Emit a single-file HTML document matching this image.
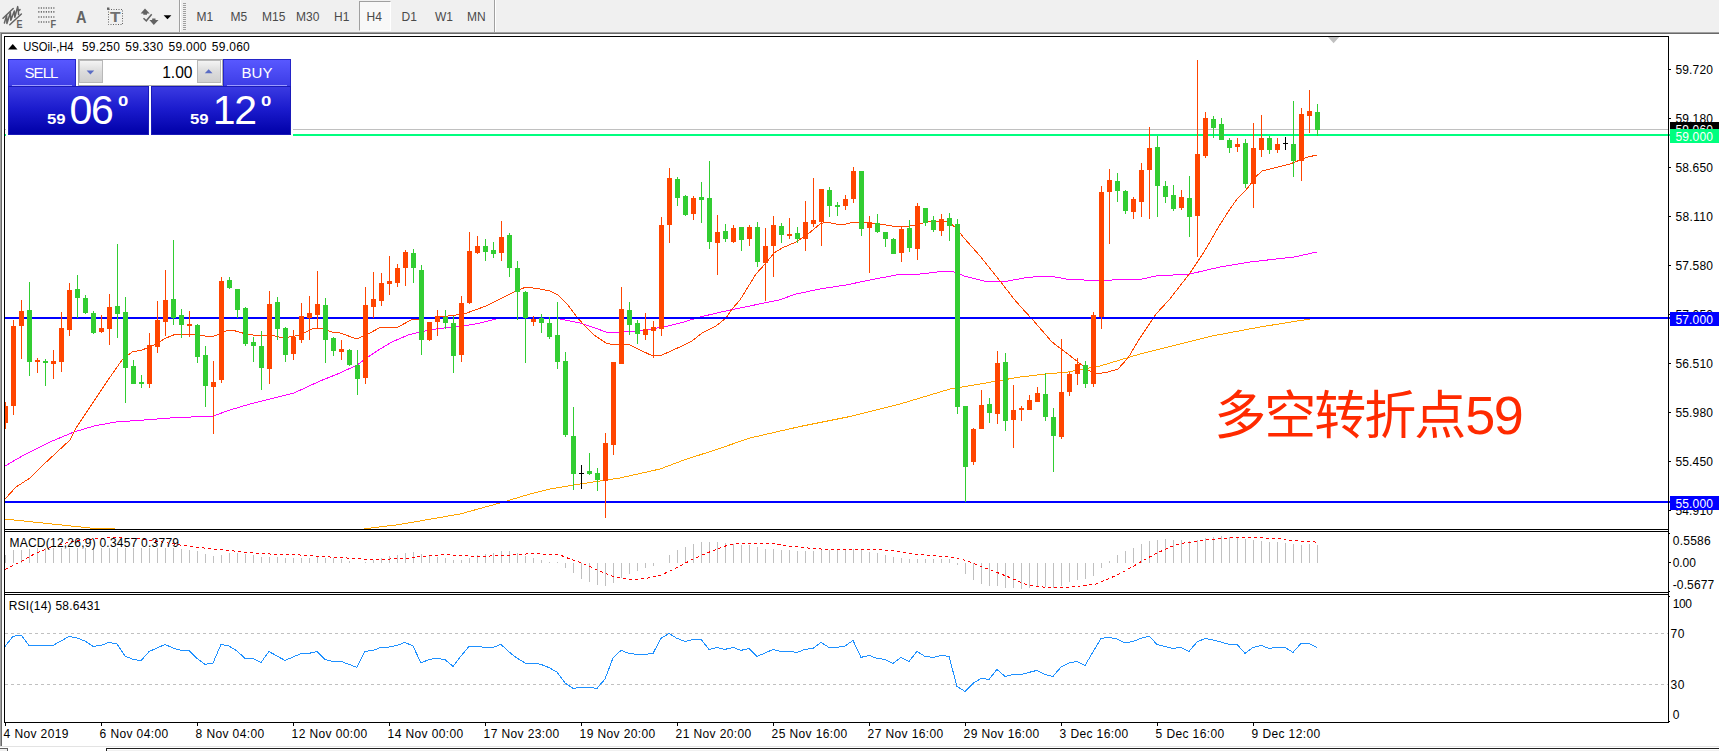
<!DOCTYPE html>
<html lang="zh"><head><meta charset="utf-8"><title>USOil-,H4</title>
<style>
html,body{margin:0;padding:0;background:#fff}
body{width:1719px;height:751px;overflow:hidden;position:relative;font-family:"Liberation Sans","Noto Sans CJK SC",sans-serif;font-size:12px;color:#000}
#toolbar{position:absolute;left:0;top:0;width:1719px;height:32px;background:#f0f0f0}
#toolbar .tf{position:absolute;top:9px;height:16px;line-height:16px;font-size:12px;color:#4a4a4a;white-space:nowrap}
#toolbar .sep{position:absolute;top:0;width:1px;height:32px;background:#a0a0a0}
#toolbar .sepw{position:absolute;top:0;width:1px;height:32px;background:#fff}
#h4box{position:absolute;left:359px;top:1px;width:30px;height:28px;background:#f8f8f8;border-left:1px solid #a0a0a0;border-top:1px solid #a0a0a0;border-right:1px solid #fff;border-bottom:1px solid #fff}
#edge-t1{position:absolute;left:0;top:32px;width:1719px;height:1px;background:#a0a0a0}
#edge-t2{position:absolute;left:0;top:33px;width:1719px;height:1px;background:#696969}
#edge-l1{position:absolute;left:0;top:32px;width:1px;height:714px;background:#a0a0a0}
#edge-l2{position:absolute;left:1px;top:33px;width:1px;height:713px;background:#696969}
#bottom{position:absolute;left:0;top:746px;width:1719px;height:5px;background:#fff}
#chart{position:absolute;left:0;top:0}
#trade{position:absolute;left:8px;top:59px;width:283px;height:76px}
#trade div{position:absolute;box-sizing:border-box}
.btn{color:#fff;font-size:15px;text-align:center;line-height:25px;height:27px;top:0;width:68px;background:linear-gradient(#5858ff,#3c3ce6);border:1px solid #2424c8;border-bottom:none}
.price{top:27px;height:49px;background:linear-gradient(#3a3ae2 0%,#1c1cce 45%,#0000a8 100%);border:1px solid #1a1ab8;color:#fff}
.price span{position:absolute;white-space:nowrap;line-height:1}
.big{font-size:41px;letter-spacing:-1.2px}
.sm{font-size:14.3px;font-weight:bold;display:inline-block;transform:scaleX(1.17);transform-origin:0 0}
.sm.sup{transform:scaleX(1.3)}
#vol{left:70px;top:0;width:145px;height:27px;background:#fff;border:1px solid #a9a9a9}
.spin{top:0;width:24px;height:23px;background:linear-gradient(#f4f4f4,#dcdcdc 50%,#cfcfcf);border:1px solid #b8b8b8}
</style></head>
<body>
<div id="toolbar">
<div class="sep" style="left:179px"></div><div class="sepw" style="left:180px"></div>
<div id="h4box"></div>

<div class="tf" style="left:196.5px">M1</div>
<div class="tf" style="left:230.5px">M5</div>
<div class="tf" style="left:262px">M15</div>
<div class="tf" style="left:296px">M30</div>
<div class="tf" style="left:334px">H1</div>
<div class="tf" style="left:366.5px">H4</div>
<div class="tf" style="left:401.5px">D1</div>
<div class="tf" style="left:435px">W1</div>
<div class="tf" style="left:467px">MN</div>
<div class="sep" style="left:494px"></div><div class="sepw" style="left:495px"></div>
</div>
<div id="edge-t1"></div><div id="edge-t2"></div><div id="edge-l1"></div><div id="edge-l2"></div>
<div id="bottom"></div>
<svg id="chart" width="1719" height="751" viewBox="0 0 1719 751" font-family="Liberation Sans, sans-serif" font-size="12">
<defs><clipPath id="cm"><rect x="5" y="37" width="1663" height="492"/></clipPath><clipPath id="cd"><rect x="5" y="532" width="1663" height="60"/></clipPath><clipPath id="cr"><rect x="5" y="595" width="1663" height="127"/></clipPath><clipPath id="cb"><rect x="1669" y="122" width="50" height="7"/></clipPath></defs>
<g id="icons" stroke="#636363" fill="none" stroke-width="1.4" stroke-linecap="round">
<path d="M3 18.3 L13.2 8.5 M9.8 24.8 L21.4 14" stroke-width="1.5"/>
<path d="M4.4 23 L6.6 15.5 L6.9 23.5 L10.4 12.5 L10.8 20.3 L14.3 11 L14.8 17.2 L17.7 6.6 L18.3 11.2 L20 9.6 M18.3 11.2 L18.6 14.5" stroke-width="1.5" stroke-linejoin="round"/>
</g>
<g stroke="#636363" stroke-width="1.7" stroke-dasharray="1.1 1.4" fill="none"><path d="M38.3 8H55.3M38.3 11.9H55.3M38.3 17H55.3M38.3 22H50"/></g>
<text x="16.6" y="27.7" font-size="10" font-weight="bold" fill="#636363" textLength="6" lengthAdjust="spacingAndGlyphs">E</text>
<text x="50.6" y="27.7" font-size="10" font-weight="bold" fill="#636363" textLength="5.6" lengthAdjust="spacingAndGlyphs">F</text>
<text x="76" y="22.7" font-size="17" font-weight="bold" fill="#636363" textLength="10.5" lengthAdjust="spacingAndGlyphs">A</text>
<rect x="108.5" y="9.5" width="14" height="15" fill="none" stroke="#636363" stroke-width="1" stroke-dasharray="1 1.5"/>
<rect x="107" y="7.5" width="2.4" height="2.4" fill="#636363"/>
<text x="110" y="22.3" font-size="15.3" font-weight="bold" fill="#707070" textLength="10.6" lengthAdjust="spacingAndGlyphs">T</text>
<g fill="#636363"><path d="M145 8.4L149.7 13.4H147V14.8H143.3V13.4H140.6Z"/><path d="M153.8 25L149.4 20H152.2V18.5H155.5V20H158.5Z"/></g>
<path d="M143.5 18.2L146.3 20.8L151.7 14.2" fill="none" stroke="#636363" stroke-width="1.5"/>
<path d="M163.6 15.2H171.4L167.5 19.2Z" fill="#000"/>
<path d="M183 3.5H186M183 5.5H186M183 7.5H186M183 9.5H186M183 11.5H186M183 13.5H186M183 15.5H186M183 17.5H186M183 19.5H186M183 21.5H186M183 23.5H186M183 25.5H186M183 27.5H186M183 29.5H186" stroke="#a0a0a0" stroke-width="1" shape-rendering="crispEdges"/>
<g shape-rendering="crispEdges" fill="none" stroke="#000" stroke-width="1">
<path d="M4.5 36V723M1668.5 36V723"/>
<path d="M4 36.5H1669M4 529.5H1669M4 531.5H1669M4 592.5H1669M4 594.5H1669M4 722.5H1669"/>
</g>
<rect x="5" y="530" width="1663" height="1" fill="#fff"/><rect x="5" y="593" width="1663" height="1" fill="#fff"/>
<g clip-path="url(#cm)" shape-rendering="crispEdges">
<polyline points="5,519 90,528 114,528.7 118,530 250,534 360,529.6 367,528.5 399,524.6 460,514 500,503 530,494 550,489 580,484 620,478 660,469 684,460 715,450 750,438 800,426.5 850,416.5 900,404 950,389 980,384 1020,377 1046,374 1068,372 1100,366 1140,354 1180,344 1212,336 1260,327 1310,319 1317,318" fill="none" stroke="#ffa500" stroke-width="1"/>
<polyline points="5,466 24,455 50,442 74,432 94,426 116,422 144,420 170,418 213,416 230,410 250,404 270,399 294,393 320,381 340,373 357,365 368,357 380,349 392,342 408,335 420,332 436,329 452,327 464,326 480,323 500,318 530,317 560,319 580,323 592,327 606,332 614,333 624,331 640,331 652,329 668,326 684,322 700,317 730,310 779,300 796,294 820,289 846,285 870,280 896,275 920,274 946,271 952,271 964,276 980,280 988,282 1008,281 1024,278 1042,276 1050,276 1066,279 1084,280 1112,280 1142,279 1156,276 1190,274 1220,267 1250,262 1294,257 1317,252" fill="none" stroke="#ff00ff" stroke-width="1"/>
<polyline points="5,499 16,487 30,478 42,466 70,440 76,428 88,410 108,380 122,360 132,352 142,350 152,346 166,338 176,334 190,334 212,337 226,331 232,330 246,334 260,336 270,335 284,338 300,335 312,329 320,328 332,332 340,333 357,339 368,334 381,327 398,327 413,319 420,319 440,317 464,314 486,306 500,299 514,292 526,287 540,289 550,291 558,295 568,305 576,316 584,325 594,335 606,343 614,345 620,344 630,345 642,351 653,356 662,355 682,346 692,341 702,333 716,326 726,318 732,309 740,300 756,274 766,263 774,253 782,248 796,242 808,234 820,224 826,222 836,224 846,224 854,222 880,224 892,226 910,226 920,224 930,221 948,221 957,229 964,238 980,256 1000,281 1014,299 1020,306 1032,319 1052,342 1064,351 1078,362 1088,370 1096,374 1108,372 1118,369 1128,358 1140,338 1156,314 1169,300 1190,273 1204,252 1220,224.5 1230,209 1237,199 1246,190 1251,183.5 1256,176.5 1262,171 1270,169 1280,166.5 1290,164 1300,160 1308,157 1317,155" fill="none" stroke="#ff4500" stroke-width="1"/>
<rect x="5" y="317" width="1663" height="2" fill="#0000ff"/>
<rect x="5" y="501" width="1663" height="2" fill="#0000ff"/>
<rect x="5" y="129" width="1663" height="1" fill="#c0c0c0"/>
<rect x="5" y="134" width="1663" height="2" fill="#00ff7f"/>
<rect x="6" y="56" width="287" height="81" fill="#fff"/>
<rect x="5" y="402" width="1" height="27" fill="#ff4500"/>
<rect x="3" y="406" width="5" height="17" fill="#ff4500"/>
<rect x="13" y="320" width="1" height="95" fill="#ff4500"/>
<rect x="11" y="326" width="5" height="80" fill="#ff4500"/>
<rect x="21" y="300" width="1" height="59" fill="#ff4500"/>
<rect x="19" y="311" width="5" height="15" fill="#ff4500"/>
<rect x="29" y="282" width="1" height="94" fill="#32cd32"/>
<rect x="27" y="310" width="5" height="52" fill="#32cd32"/>
<rect x="37" y="358" width="1" height="15" fill="#ff4500"/>
<rect x="35" y="360" width="5" height="2" fill="#ff4500"/>
<rect x="45" y="359" width="1" height="27" fill="#32cd32"/>
<rect x="43" y="361" width="5" height="2" fill="#32cd32"/>
<rect x="53" y="350" width="1" height="29" fill="#ff4500"/>
<rect x="51" y="361" width="5" height="3" fill="#ff4500"/>
<rect x="61" y="312" width="1" height="60" fill="#ff4500"/>
<rect x="59" y="328" width="5" height="34" fill="#ff4500"/>
<rect x="69" y="283" width="1" height="53" fill="#ff4500"/>
<rect x="67" y="290" width="5" height="40" fill="#ff4500"/>
<rect x="77" y="275" width="1" height="43" fill="#32cd32"/>
<rect x="75" y="289" width="5" height="9" fill="#32cd32"/>
<rect x="85" y="295" width="1" height="19" fill="#32cd32"/>
<rect x="83" y="298" width="5" height="15" fill="#32cd32"/>
<rect x="93" y="311" width="1" height="23" fill="#32cd32"/>
<rect x="91" y="313" width="5" height="20" fill="#32cd32"/>
<rect x="101" y="315" width="1" height="18" fill="#ff4500"/>
<rect x="99" y="328" width="5" height="4" fill="#ff4500"/>
<rect x="109" y="294" width="1" height="51" fill="#ff4500"/>
<rect x="107" y="307" width="5" height="22" fill="#ff4500"/>
<rect x="117" y="244" width="1" height="94" fill="#32cd32"/>
<rect x="115" y="306" width="5" height="8" fill="#32cd32"/>
<rect x="125" y="297" width="1" height="106" fill="#32cd32"/>
<rect x="123" y="312" width="5" height="56" fill="#32cd32"/>
<rect x="133" y="360" width="1" height="24" fill="#32cd32"/>
<rect x="131" y="366" width="5" height="18" fill="#32cd32"/>
<rect x="141" y="375" width="1" height="13" fill="#32cd32"/>
<rect x="139" y="382" width="5" height="2" fill="#32cd32"/>
<rect x="149" y="333" width="1" height="55" fill="#ff4500"/>
<rect x="147" y="345" width="5" height="39" fill="#ff4500"/>
<rect x="157" y="301" width="1" height="52" fill="#ff4500"/>
<rect x="155" y="320" width="5" height="27" fill="#ff4500"/>
<rect x="165" y="270" width="1" height="66" fill="#ff4500"/>
<rect x="163" y="300" width="5" height="22" fill="#ff4500"/>
<rect x="173" y="240" width="1" height="85" fill="#32cd32"/>
<rect x="171" y="299" width="5" height="19" fill="#32cd32"/>
<rect x="181" y="309" width="1" height="29" fill="#32cd32"/>
<rect x="179" y="315" width="5" height="10" fill="#32cd32"/>
<rect x="189" y="311" width="1" height="26" fill="#ff4500"/>
<rect x="187" y="324" width="5" height="2" fill="#ff4500"/>
<rect x="197" y="324" width="1" height="39" fill="#32cd32"/>
<rect x="195" y="325" width="5" height="32" fill="#32cd32"/>
<rect x="205" y="346" width="1" height="61" fill="#32cd32"/>
<rect x="203" y="355" width="5" height="31" fill="#32cd32"/>
<rect x="213" y="361" width="1" height="73" fill="#ff4500"/>
<rect x="211" y="382" width="5" height="5" fill="#ff4500"/>
<rect x="221" y="277" width="1" height="106" fill="#ff4500"/>
<rect x="219" y="281" width="5" height="99" fill="#ff4500"/>
<rect x="229" y="277" width="1" height="12" fill="#32cd32"/>
<rect x="227" y="280" width="5" height="8" fill="#32cd32"/>
<rect x="237" y="289" width="1" height="29" fill="#32cd32"/>
<rect x="235" y="289" width="5" height="21" fill="#32cd32"/>
<rect x="245" y="307" width="1" height="39" fill="#32cd32"/>
<rect x="243" y="308" width="5" height="36" fill="#32cd32"/>
<rect x="253" y="337" width="1" height="25" fill="#32cd32"/>
<rect x="251" y="342" width="5" height="4" fill="#32cd32"/>
<rect x="261" y="331" width="1" height="59" fill="#32cd32"/>
<rect x="259" y="346" width="5" height="22" fill="#32cd32"/>
<rect x="269" y="291" width="1" height="93" fill="#ff4500"/>
<rect x="267" y="304" width="5" height="65" fill="#ff4500"/>
<rect x="277" y="297" width="1" height="43" fill="#32cd32"/>
<rect x="275" y="302" width="5" height="27" fill="#32cd32"/>
<rect x="285" y="327" width="1" height="35" fill="#32cd32"/>
<rect x="283" y="328" width="5" height="27" fill="#32cd32"/>
<rect x="293" y="330" width="1" height="30" fill="#ff4500"/>
<rect x="291" y="337" width="5" height="17" fill="#ff4500"/>
<rect x="301" y="303" width="1" height="40" fill="#ff4500"/>
<rect x="299" y="316" width="5" height="24" fill="#ff4500"/>
<rect x="309" y="296" width="1" height="44" fill="#ff4500"/>
<rect x="307" y="313" width="5" height="5" fill="#ff4500"/>
<rect x="317" y="271" width="1" height="57" fill="#ff4500"/>
<rect x="315" y="304" width="5" height="11" fill="#ff4500"/>
<rect x="325" y="298" width="1" height="65" fill="#32cd32"/>
<rect x="323" y="305" width="5" height="35" fill="#32cd32"/>
<rect x="333" y="337" width="1" height="19" fill="#32cd32"/>
<rect x="331" y="338" width="5" height="13" fill="#32cd32"/>
<rect x="341" y="340" width="1" height="20" fill="#ff4500"/>
<rect x="339" y="349" width="5" height="3" fill="#ff4500"/>
<rect x="349" y="349" width="1" height="17" fill="#32cd32"/>
<rect x="347" y="350" width="5" height="15" fill="#32cd32"/>
<rect x="357" y="350" width="1" height="45" fill="#32cd32"/>
<rect x="355" y="365" width="5" height="14" fill="#32cd32"/>
<rect x="365" y="287" width="1" height="97" fill="#ff4500"/>
<rect x="363" y="305" width="5" height="73" fill="#ff4500"/>
<rect x="373" y="272" width="1" height="46" fill="#ff4500"/>
<rect x="371" y="299" width="5" height="8" fill="#ff4500"/>
<rect x="381" y="273" width="1" height="33" fill="#ff4500"/>
<rect x="379" y="283" width="5" height="18" fill="#ff4500"/>
<rect x="389" y="256" width="1" height="39" fill="#ff4500"/>
<rect x="387" y="281" width="5" height="3" fill="#ff4500"/>
<rect x="397" y="264" width="1" height="23" fill="#ff4500"/>
<rect x="395" y="268" width="5" height="15" fill="#ff4500"/>
<rect x="405" y="250" width="1" height="36" fill="#ff4500"/>
<rect x="403" y="252" width="5" height="16" fill="#ff4500"/>
<rect x="413" y="249" width="1" height="34" fill="#32cd32"/>
<rect x="411" y="253" width="5" height="15" fill="#32cd32"/>
<rect x="421" y="265" width="1" height="90" fill="#32cd32"/>
<rect x="419" y="270" width="5" height="70" fill="#32cd32"/>
<rect x="429" y="322" width="1" height="19" fill="#ff4500"/>
<rect x="427" y="322" width="5" height="18" fill="#ff4500"/>
<rect x="437" y="310" width="1" height="26" fill="#ff4500"/>
<rect x="435" y="316" width="5" height="6" fill="#ff4500"/>
<rect x="445" y="310" width="1" height="19" fill="#32cd32"/>
<rect x="443" y="317" width="5" height="6" fill="#32cd32"/>
<rect x="453" y="316" width="1" height="57" fill="#32cd32"/>
<rect x="451" y="323" width="5" height="33" fill="#32cd32"/>
<rect x="461" y="296" width="1" height="66" fill="#ff4500"/>
<rect x="459" y="303" width="5" height="52" fill="#ff4500"/>
<rect x="469" y="232" width="1" height="72" fill="#ff4500"/>
<rect x="467" y="251" width="5" height="52" fill="#ff4500"/>
<rect x="477" y="236" width="1" height="18" fill="#ff4500"/>
<rect x="475" y="246" width="5" height="7" fill="#ff4500"/>
<rect x="485" y="239" width="1" height="22" fill="#32cd32"/>
<rect x="483" y="246" width="5" height="6" fill="#32cd32"/>
<rect x="493" y="242" width="1" height="16" fill="#32cd32"/>
<rect x="491" y="250" width="5" height="4" fill="#32cd32"/>
<rect x="501" y="221" width="1" height="40" fill="#ff4500"/>
<rect x="499" y="237" width="5" height="16" fill="#ff4500"/>
<rect x="509" y="233" width="1" height="44" fill="#32cd32"/>
<rect x="507" y="235" width="5" height="33" fill="#32cd32"/>
<rect x="517" y="261" width="1" height="59" fill="#32cd32"/>
<rect x="515" y="268" width="5" height="24" fill="#32cd32"/>
<rect x="525" y="291" width="1" height="72" fill="#32cd32"/>
<rect x="523" y="292" width="5" height="26" fill="#32cd32"/>
<rect x="533" y="316" width="1" height="10" fill="#ff4500"/>
<rect x="531" y="319" width="5" height="3" fill="#ff4500"/>
<rect x="541" y="314" width="1" height="19" fill="#32cd32"/>
<rect x="539" y="318" width="5" height="5" fill="#32cd32"/>
<rect x="549" y="317" width="1" height="22" fill="#32cd32"/>
<rect x="547" y="323" width="5" height="14" fill="#32cd32"/>
<rect x="557" y="302" width="1" height="67" fill="#32cd32"/>
<rect x="555" y="335" width="5" height="27" fill="#32cd32"/>
<rect x="565" y="352" width="1" height="85" fill="#32cd32"/>
<rect x="563" y="361" width="5" height="74" fill="#32cd32"/>
<rect x="573" y="407" width="1" height="83" fill="#32cd32"/>
<rect x="571" y="436" width="5" height="38" fill="#32cd32"/>
<rect x="581" y="465" width="1" height="24" fill="#000"/>
<rect x="579" y="473" width="5" height="1" fill="#000"/>
<rect x="589" y="453" width="1" height="22" fill="#32cd32"/>
<rect x="587" y="471" width="5" height="3" fill="#32cd32"/>
<rect x="597" y="468" width="1" height="23" fill="#32cd32"/>
<rect x="595" y="473" width="5" height="7" fill="#32cd32"/>
<rect x="605" y="433" width="1" height="85" fill="#ff4500"/>
<rect x="603" y="443" width="5" height="38" fill="#ff4500"/>
<rect x="613" y="362" width="1" height="93" fill="#ff4500"/>
<rect x="611" y="362" width="5" height="83" fill="#ff4500"/>
<rect x="621" y="287" width="1" height="77" fill="#ff4500"/>
<rect x="619" y="309" width="5" height="55" fill="#ff4500"/>
<rect x="629" y="302" width="1" height="33" fill="#32cd32"/>
<rect x="627" y="310" width="5" height="15" fill="#32cd32"/>
<rect x="637" y="320" width="1" height="24" fill="#32cd32"/>
<rect x="635" y="323" width="5" height="11" fill="#32cd32"/>
<rect x="645" y="313" width="1" height="27" fill="#ff4500"/>
<rect x="643" y="329" width="5" height="6" fill="#ff4500"/>
<rect x="653" y="321" width="1" height="37" fill="#ff4500"/>
<rect x="651" y="327" width="5" height="4" fill="#ff4500"/>
<rect x="661" y="217" width="1" height="119" fill="#ff4500"/>
<rect x="659" y="225" width="5" height="104" fill="#ff4500"/>
<rect x="669" y="168" width="1" height="75" fill="#ff4500"/>
<rect x="667" y="178" width="5" height="47" fill="#ff4500"/>
<rect x="677" y="177" width="1" height="29" fill="#32cd32"/>
<rect x="675" y="179" width="5" height="19" fill="#32cd32"/>
<rect x="685" y="195" width="1" height="21" fill="#32cd32"/>
<rect x="683" y="196" width="5" height="19" fill="#32cd32"/>
<rect x="693" y="196" width="1" height="24" fill="#ff4500"/>
<rect x="691" y="198" width="5" height="16" fill="#ff4500"/>
<rect x="701" y="182" width="1" height="41" fill="#32cd32"/>
<rect x="699" y="197" width="5" height="3" fill="#32cd32"/>
<rect x="709" y="161" width="1" height="88" fill="#32cd32"/>
<rect x="707" y="198" width="5" height="44" fill="#32cd32"/>
<rect x="717" y="215" width="1" height="60" fill="#ff4500"/>
<rect x="715" y="232" width="5" height="11" fill="#ff4500"/>
<rect x="725" y="224" width="1" height="18" fill="#32cd32"/>
<rect x="723" y="231" width="5" height="8" fill="#32cd32"/>
<rect x="733" y="225" width="1" height="18" fill="#ff4500"/>
<rect x="731" y="228" width="5" height="14" fill="#ff4500"/>
<rect x="741" y="227" width="1" height="24" fill="#32cd32"/>
<rect x="739" y="227" width="5" height="13" fill="#32cd32"/>
<rect x="749" y="225" width="1" height="21" fill="#ff4500"/>
<rect x="747" y="227" width="5" height="12" fill="#ff4500"/>
<rect x="757" y="222" width="1" height="45" fill="#32cd32"/>
<rect x="755" y="227" width="5" height="35" fill="#32cd32"/>
<rect x="765" y="228" width="1" height="73" fill="#ff4500"/>
<rect x="763" y="246" width="5" height="17" fill="#ff4500"/>
<rect x="773" y="216" width="1" height="61" fill="#ff4500"/>
<rect x="771" y="225" width="5" height="21" fill="#ff4500"/>
<rect x="781" y="223" width="1" height="20" fill="#32cd32"/>
<rect x="779" y="226" width="5" height="9" fill="#32cd32"/>
<rect x="789" y="218" width="1" height="21" fill="#ff4500"/>
<rect x="787" y="234" width="5" height="2" fill="#ff4500"/>
<rect x="797" y="227" width="1" height="16" fill="#32cd32"/>
<rect x="795" y="233" width="5" height="6" fill="#32cd32"/>
<rect x="805" y="201" width="1" height="50" fill="#ff4500"/>
<rect x="803" y="222" width="5" height="17" fill="#ff4500"/>
<rect x="813" y="178" width="1" height="49" fill="#ff4500"/>
<rect x="811" y="220" width="5" height="4" fill="#ff4500"/>
<rect x="821" y="189" width="1" height="57" fill="#ff4500"/>
<rect x="819" y="189" width="5" height="33" fill="#ff4500"/>
<rect x="829" y="187" width="1" height="30" fill="#32cd32"/>
<rect x="827" y="190" width="5" height="16" fill="#32cd32"/>
<rect x="837" y="202" width="1" height="14" fill="#32cd32"/>
<rect x="835" y="205" width="5" height="2" fill="#32cd32"/>
<rect x="845" y="195" width="1" height="15" fill="#ff4500"/>
<rect x="843" y="199" width="5" height="7" fill="#ff4500"/>
<rect x="853" y="167" width="1" height="36" fill="#ff4500"/>
<rect x="851" y="171" width="5" height="28" fill="#ff4500"/>
<rect x="861" y="171" width="1" height="65" fill="#32cd32"/>
<rect x="859" y="171" width="5" height="58" fill="#32cd32"/>
<rect x="869" y="216" width="1" height="57" fill="#ff4500"/>
<rect x="867" y="222" width="5" height="6" fill="#ff4500"/>
<rect x="877" y="214" width="1" height="19" fill="#32cd32"/>
<rect x="875" y="223" width="5" height="9" fill="#32cd32"/>
<rect x="885" y="232" width="1" height="15" fill="#32cd32"/>
<rect x="883" y="232" width="5" height="7" fill="#32cd32"/>
<rect x="893" y="238" width="1" height="16" fill="#32cd32"/>
<rect x="891" y="239" width="5" height="15" fill="#32cd32"/>
<rect x="901" y="227" width="1" height="35" fill="#ff4500"/>
<rect x="899" y="229" width="5" height="24" fill="#ff4500"/>
<rect x="909" y="220" width="1" height="32" fill="#32cd32"/>
<rect x="907" y="228" width="5" height="20" fill="#32cd32"/>
<rect x="917" y="203" width="1" height="57" fill="#ff4500"/>
<rect x="915" y="206" width="5" height="43" fill="#ff4500"/>
<rect x="925" y="208" width="1" height="18" fill="#32cd32"/>
<rect x="923" y="208" width="5" height="15" fill="#32cd32"/>
<rect x="933" y="216" width="1" height="16" fill="#32cd32"/>
<rect x="931" y="220" width="5" height="10" fill="#32cd32"/>
<rect x="941" y="214" width="1" height="22" fill="#ff4500"/>
<rect x="939" y="219" width="5" height="12" fill="#ff4500"/>
<rect x="949" y="213" width="1" height="28" fill="#32cd32"/>
<rect x="947" y="218" width="5" height="8" fill="#32cd32"/>
<rect x="957" y="219" width="1" height="195" fill="#32cd32"/>
<rect x="955" y="224" width="5" height="183" fill="#32cd32"/>
<rect x="965" y="406" width="1" height="96" fill="#32cd32"/>
<rect x="963" y="406" width="5" height="61" fill="#32cd32"/>
<rect x="973" y="428" width="1" height="37" fill="#ff4500"/>
<rect x="971" y="429" width="5" height="33" fill="#ff4500"/>
<rect x="981" y="390" width="1" height="39" fill="#ff4500"/>
<rect x="979" y="405" width="5" height="24" fill="#ff4500"/>
<rect x="989" y="398" width="1" height="25" fill="#32cd32"/>
<rect x="987" y="404" width="5" height="9" fill="#32cd32"/>
<rect x="997" y="351" width="1" height="73" fill="#ff4500"/>
<rect x="995" y="363" width="5" height="51" fill="#ff4500"/>
<rect x="1005" y="353" width="1" height="78" fill="#32cd32"/>
<rect x="1003" y="362" width="5" height="59" fill="#32cd32"/>
<rect x="1013" y="385" width="1" height="63" fill="#ff4500"/>
<rect x="1011" y="410" width="5" height="10" fill="#ff4500"/>
<rect x="1021" y="406" width="1" height="15" fill="#ff4500"/>
<rect x="1019" y="408" width="5" height="2" fill="#ff4500"/>
<rect x="1029" y="395" width="1" height="15" fill="#ff4500"/>
<rect x="1027" y="400" width="5" height="10" fill="#ff4500"/>
<rect x="1037" y="387" width="1" height="15" fill="#ff4500"/>
<rect x="1035" y="393" width="5" height="9" fill="#ff4500"/>
<rect x="1045" y="373" width="1" height="48" fill="#32cd32"/>
<rect x="1043" y="394" width="5" height="23" fill="#32cd32"/>
<rect x="1053" y="408" width="1" height="64" fill="#32cd32"/>
<rect x="1051" y="417" width="5" height="19" fill="#32cd32"/>
<rect x="1061" y="339" width="1" height="100" fill="#ff4500"/>
<rect x="1059" y="392" width="5" height="45" fill="#ff4500"/>
<rect x="1069" y="372" width="1" height="24" fill="#ff4500"/>
<rect x="1067" y="374" width="5" height="18" fill="#ff4500"/>
<rect x="1077" y="358" width="1" height="27" fill="#ff4500"/>
<rect x="1075" y="364" width="5" height="10" fill="#ff4500"/>
<rect x="1085" y="361" width="1" height="27" fill="#32cd32"/>
<rect x="1083" y="365" width="5" height="19" fill="#32cd32"/>
<rect x="1093" y="312" width="1" height="75" fill="#ff4500"/>
<rect x="1091" y="315" width="5" height="69" fill="#ff4500"/>
<rect x="1101" y="186" width="1" height="143" fill="#ff4500"/>
<rect x="1099" y="192" width="5" height="125" fill="#ff4500"/>
<rect x="1109" y="169" width="1" height="75" fill="#ff4500"/>
<rect x="1107" y="180" width="5" height="12" fill="#ff4500"/>
<rect x="1117" y="173" width="1" height="29" fill="#32cd32"/>
<rect x="1115" y="181" width="5" height="10" fill="#32cd32"/>
<rect x="1125" y="190" width="1" height="24" fill="#32cd32"/>
<rect x="1123" y="191" width="5" height="20" fill="#32cd32"/>
<rect x="1133" y="197" width="1" height="22" fill="#ff4500"/>
<rect x="1131" y="199" width="5" height="13" fill="#ff4500"/>
<rect x="1141" y="163" width="1" height="54" fill="#ff4500"/>
<rect x="1139" y="170" width="5" height="32" fill="#ff4500"/>
<rect x="1149" y="127" width="1" height="92" fill="#ff4500"/>
<rect x="1147" y="148" width="5" height="22" fill="#ff4500"/>
<rect x="1157" y="136" width="1" height="81" fill="#32cd32"/>
<rect x="1155" y="147" width="5" height="39" fill="#32cd32"/>
<rect x="1165" y="181" width="1" height="22" fill="#32cd32"/>
<rect x="1163" y="186" width="5" height="11" fill="#32cd32"/>
<rect x="1173" y="185" width="1" height="26" fill="#32cd32"/>
<rect x="1171" y="195" width="5" height="14" fill="#32cd32"/>
<rect x="1181" y="190" width="1" height="20" fill="#ff4500"/>
<rect x="1179" y="197" width="5" height="11" fill="#ff4500"/>
<rect x="1189" y="176" width="1" height="61" fill="#32cd32"/>
<rect x="1187" y="198" width="5" height="19" fill="#32cd32"/>
<rect x="1197" y="60" width="1" height="197" fill="#ff4500"/>
<rect x="1195" y="154" width="5" height="62" fill="#ff4500"/>
<rect x="1205" y="112" width="1" height="46" fill="#ff4500"/>
<rect x="1203" y="118" width="5" height="38" fill="#ff4500"/>
<rect x="1213" y="116" width="1" height="22" fill="#32cd32"/>
<rect x="1211" y="119" width="5" height="9" fill="#32cd32"/>
<rect x="1221" y="118" width="1" height="22" fill="#32cd32"/>
<rect x="1219" y="124" width="5" height="16" fill="#32cd32"/>
<rect x="1229" y="138" width="1" height="15" fill="#32cd32"/>
<rect x="1227" y="140" width="5" height="8" fill="#32cd32"/>
<rect x="1237" y="138" width="1" height="14" fill="#ff4500"/>
<rect x="1235" y="144" width="5" height="3" fill="#ff4500"/>
<rect x="1245" y="139" width="1" height="49" fill="#32cd32"/>
<rect x="1243" y="143" width="5" height="41" fill="#32cd32"/>
<rect x="1253" y="123" width="1" height="85" fill="#ff4500"/>
<rect x="1251" y="148" width="5" height="36" fill="#ff4500"/>
<rect x="1261" y="115" width="1" height="42" fill="#ff4500"/>
<rect x="1259" y="138" width="5" height="12" fill="#ff4500"/>
<rect x="1269" y="136" width="1" height="18" fill="#32cd32"/>
<rect x="1267" y="138" width="5" height="12" fill="#32cd32"/>
<rect x="1277" y="138" width="1" height="15" fill="#ff4500"/>
<rect x="1275" y="144" width="5" height="6" fill="#ff4500"/>
<rect x="1285" y="137" width="1" height="13" fill="#000"/>
<rect x="1283" y="143" width="5" height="1" fill="#000"/>
<rect x="1293" y="101" width="1" height="76" fill="#32cd32"/>
<rect x="1291" y="144" width="5" height="17" fill="#32cd32"/>
<rect x="1301" y="108" width="1" height="73" fill="#ff4500"/>
<rect x="1299" y="114" width="5" height="47" fill="#ff4500"/>
<rect x="1309" y="90" width="1" height="43" fill="#ff4500"/>
<rect x="1307" y="111" width="5" height="5" fill="#ff4500"/>
<rect x="1317" y="104" width="1" height="32" fill="#32cd32"/>
<rect x="1315" y="112" width="5" height="18" fill="#32cd32"/>
</g>
<path d="M1328 37H1339.2L1333.6 43.2Z" fill="#c0c0c0"/>
<path d="M8 49.5H17.5L12.75 44Z" fill="#000"/>
<text y="50.7"><tspan x="23.3" textLength="50.3" lengthAdjust="spacingAndGlyphs">USOil-,H4</tspan><tspan x="81.9" textLength="38" lengthAdjust="spacing">59.250</tspan><tspan x="125.2" textLength="38" lengthAdjust="spacing">59.330</tspan><tspan x="168.5" textLength="38" lengthAdjust="spacing">59.000</tspan><tspan x="211.8" textLength="38" lengthAdjust="spacing">59.060</tspan></text>
<text x="1214.3" y="434" font-size="52" letter-spacing="-2" fill="#ff2a00" font-family="Liberation Sans, Noto Sans CJK SC, sans-serif">多空转折点<tspan font-size="54" letter-spacing="-1.5" dx="1">59</tspan></text>
<g shape-rendering="crispEdges">
<rect x="1669" y="69" width="2" height="1" fill="#000"/>
<rect x="1669" y="118" width="2" height="1" fill="#000"/>
<rect x="1669" y="167" width="2" height="1" fill="#000"/>
<rect x="1669" y="216" width="2" height="1" fill="#000"/>
<rect x="1669" y="265" width="2" height="1" fill="#000"/>
<rect x="1669" y="314" width="2" height="1" fill="#000"/>
<rect x="1669" y="363" width="2" height="1" fill="#000"/>
<rect x="1669" y="412" width="2" height="1" fill="#000"/>
<rect x="1669" y="461" width="2" height="1" fill="#000"/>
<rect x="1669" y="510" width="2" height="1" fill="#000"/>
</g>
<text x="1675.4" y="73.6" textLength="37.6" lengthAdjust="spacing">59.720</text>
<text x="1675.4" y="122.6" textLength="37.6" lengthAdjust="spacing">59.180</text>
<text x="1675.4" y="171.6" textLength="37.6" lengthAdjust="spacing">58.650</text>
<text x="1675.4" y="220.6" textLength="37.6" lengthAdjust="spacing">58.110</text>
<text x="1675.4" y="269.6" textLength="37.6" lengthAdjust="spacing">57.580</text>
<text x="1675.4" y="318.6" textLength="37.6" lengthAdjust="spacing">57.050</text>
<text x="1675.4" y="367.6" textLength="37.6" lengthAdjust="spacing">56.510</text>
<text x="1675.4" y="416.6" textLength="37.6" lengthAdjust="spacing">55.980</text>
<text x="1675.4" y="465.6" textLength="37.6" lengthAdjust="spacing">55.450</text>
<text x="1675.4" y="514.6" textLength="37.6" lengthAdjust="spacing">54.910</text>
<rect x="1670" y="122" width="49" height="7" fill="#000"/>
<g clip-path="url(#cb)"><text x="1675.4" y="134" fill="#fff" textLength="37.6" lengthAdjust="spacing">59.060</text></g>
<rect x="1670" y="129" width="49" height="14" fill="#00ff7f"/>
<text x="1675.4" y="140.8" fill="#fff" textLength="37.6" lengthAdjust="spacing">59.000</text>
<rect x="1669" y="134" width="1" height="2" fill="#00ff7f"/>
<rect x="1670" y="312" width="49" height="14" fill="#0000ff"/>
<rect x="1669" y="317" width="1" height="2" fill="#0000ff"/>
<text x="1675.4" y="323.8" fill="#fff" textLength="37.6" lengthAdjust="spacing">57.000</text>
<rect x="1670" y="496" width="49" height="14" fill="#0000ff"/>
<rect x="1669" y="501" width="1" height="2" fill="#0000ff"/>
<text x="1675.4" y="507.8" fill="#fff" textLength="37.6" lengthAdjust="spacing">55.000</text>
<g clip-path="url(#cd)" shape-rendering="crispEdges">
<rect x="5" y="555" width="1" height="8" fill="#c0c0c0"/>
<rect x="13" y="550" width="1" height="13" fill="#c0c0c0"/>
<rect x="21" y="550" width="1" height="13" fill="#c0c0c0"/>
<rect x="29" y="549" width="1" height="14" fill="#c0c0c0"/>
<rect x="37" y="548" width="1" height="15" fill="#c0c0c0"/>
<rect x="45" y="548" width="1" height="15" fill="#c0c0c0"/>
<rect x="53" y="548" width="1" height="15" fill="#c0c0c0"/>
<rect x="61" y="548" width="1" height="15" fill="#c0c0c0"/>
<rect x="69" y="548" width="1" height="15" fill="#c0c0c0"/>
<rect x="77" y="548" width="1" height="15" fill="#c0c0c0"/>
<rect x="85" y="548" width="1" height="15" fill="#c0c0c0"/>
<rect x="93" y="548" width="1" height="15" fill="#c0c0c0"/>
<rect x="101" y="548" width="1" height="15" fill="#c0c0c0"/>
<rect x="109" y="548" width="1" height="15" fill="#c0c0c0"/>
<rect x="117" y="548" width="1" height="15" fill="#c0c0c0"/>
<rect x="125" y="548" width="1" height="15" fill="#c0c0c0"/>
<rect x="133" y="548" width="1" height="15" fill="#c0c0c0"/>
<rect x="141" y="548" width="1" height="15" fill="#c0c0c0"/>
<rect x="149" y="548" width="1" height="15" fill="#c0c0c0"/>
<rect x="157" y="548" width="1" height="15" fill="#c0c0c0"/>
<rect x="165" y="548" width="1" height="15" fill="#c0c0c0"/>
<rect x="173" y="548" width="1" height="15" fill="#c0c0c0"/>
<rect x="181" y="549" width="1" height="14" fill="#c0c0c0"/>
<rect x="189" y="550" width="1" height="13" fill="#c0c0c0"/>
<rect x="197" y="551" width="1" height="12" fill="#c0c0c0"/>
<rect x="205" y="554" width="1" height="9" fill="#c0c0c0"/>
<rect x="213" y="556" width="1" height="7" fill="#c0c0c0"/>
<rect x="221" y="555" width="1" height="8" fill="#c0c0c0"/>
<rect x="229" y="553" width="1" height="10" fill="#c0c0c0"/>
<rect x="237" y="553" width="1" height="10" fill="#c0c0c0"/>
<rect x="245" y="554" width="1" height="9" fill="#c0c0c0"/>
<rect x="253" y="555" width="1" height="8" fill="#c0c0c0"/>
<rect x="261" y="557" width="1" height="6" fill="#c0c0c0"/>
<rect x="269" y="557" width="1" height="6" fill="#c0c0c0"/>
<rect x="277" y="557" width="1" height="6" fill="#c0c0c0"/>
<rect x="285" y="558" width="1" height="5" fill="#c0c0c0"/>
<rect x="293" y="558" width="1" height="5" fill="#c0c0c0"/>
<rect x="301" y="558" width="1" height="5" fill="#c0c0c0"/>
<rect x="309" y="558" width="1" height="5" fill="#c0c0c0"/>
<rect x="317" y="557" width="1" height="6" fill="#c0c0c0"/>
<rect x="325" y="558" width="1" height="5" fill="#c0c0c0"/>
<rect x="333" y="558" width="1" height="5" fill="#c0c0c0"/>
<rect x="341" y="559" width="1" height="4" fill="#c0c0c0"/>
<rect x="349" y="561" width="1" height="2" fill="#c0c0c0"/>
<rect x="365" y="562" width="1" height="1" fill="#c0c0c0"/>
<rect x="373" y="560" width="1" height="3" fill="#c0c0c0"/>
<rect x="381" y="558" width="1" height="5" fill="#c0c0c0"/>
<rect x="389" y="556" width="1" height="7" fill="#c0c0c0"/>
<rect x="397" y="555" width="1" height="8" fill="#c0c0c0"/>
<rect x="405" y="553" width="1" height="10" fill="#c0c0c0"/>
<rect x="413" y="552" width="1" height="11" fill="#c0c0c0"/>
<rect x="421" y="554" width="1" height="9" fill="#c0c0c0"/>
<rect x="429" y="556" width="1" height="7" fill="#c0c0c0"/>
<rect x="437" y="557" width="1" height="6" fill="#c0c0c0"/>
<rect x="445" y="558" width="1" height="5" fill="#c0c0c0"/>
<rect x="453" y="560" width="1" height="3" fill="#c0c0c0"/>
<rect x="461" y="560" width="1" height="3" fill="#c0c0c0"/>
<rect x="469" y="558" width="1" height="5" fill="#c0c0c0"/>
<rect x="477" y="555" width="1" height="8" fill="#c0c0c0"/>
<rect x="485" y="554" width="1" height="9" fill="#c0c0c0"/>
<rect x="493" y="553" width="1" height="10" fill="#c0c0c0"/>
<rect x="501" y="551" width="1" height="12" fill="#c0c0c0"/>
<rect x="509" y="551" width="1" height="12" fill="#c0c0c0"/>
<rect x="517" y="553" width="1" height="10" fill="#c0c0c0"/>
<rect x="525" y="556" width="1" height="7" fill="#c0c0c0"/>
<rect x="533" y="558" width="1" height="5" fill="#c0c0c0"/>
<rect x="541" y="560" width="1" height="3" fill="#c0c0c0"/>
<rect x="549" y="562" width="1" height="1" fill="#c0c0c0"/>
<rect x="557" y="562" width="1" height="1" fill="#c0c0c0"/>
<rect x="565" y="563" width="1" height="5" fill="#c0c0c0"/>
<rect x="573" y="563" width="1" height="10" fill="#c0c0c0"/>
<rect x="581" y="563" width="1" height="16" fill="#c0c0c0"/>
<rect x="589" y="563" width="1" height="19" fill="#c0c0c0"/>
<rect x="597" y="563" width="1" height="22" fill="#c0c0c0"/>
<rect x="605" y="563" width="1" height="23" fill="#c0c0c0"/>
<rect x="613" y="563" width="1" height="20" fill="#c0c0c0"/>
<rect x="621" y="563" width="1" height="15" fill="#c0c0c0"/>
<rect x="629" y="563" width="1" height="11" fill="#c0c0c0"/>
<rect x="637" y="563" width="1" height="8" fill="#c0c0c0"/>
<rect x="645" y="563" width="1" height="5" fill="#c0c0c0"/>
<rect x="653" y="563" width="1" height="3" fill="#c0c0c0"/>
<rect x="669" y="555" width="1" height="8" fill="#c0c0c0"/>
<rect x="677" y="550" width="1" height="13" fill="#c0c0c0"/>
<rect x="685" y="547" width="1" height="16" fill="#c0c0c0"/>
<rect x="693" y="544" width="1" height="19" fill="#c0c0c0"/>
<rect x="701" y="542" width="1" height="21" fill="#c0c0c0"/>
<rect x="709" y="542" width="1" height="21" fill="#c0c0c0"/>
<rect x="717" y="542" width="1" height="21" fill="#c0c0c0"/>
<rect x="725" y="543" width="1" height="20" fill="#c0c0c0"/>
<rect x="733" y="544" width="1" height="19" fill="#c0c0c0"/>
<rect x="741" y="545" width="1" height="18" fill="#c0c0c0"/>
<rect x="749" y="545" width="1" height="18" fill="#c0c0c0"/>
<rect x="757" y="547" width="1" height="16" fill="#c0c0c0"/>
<rect x="765" y="549" width="1" height="14" fill="#c0c0c0"/>
<rect x="773" y="549" width="1" height="14" fill="#c0c0c0"/>
<rect x="781" y="550" width="1" height="13" fill="#c0c0c0"/>
<rect x="789" y="550" width="1" height="13" fill="#c0c0c0"/>
<rect x="797" y="551" width="1" height="12" fill="#c0c0c0"/>
<rect x="805" y="551" width="1" height="12" fill="#c0c0c0"/>
<rect x="813" y="551" width="1" height="12" fill="#c0c0c0"/>
<rect x="821" y="550" width="1" height="13" fill="#c0c0c0"/>
<rect x="829" y="550" width="1" height="13" fill="#c0c0c0"/>
<rect x="837" y="550" width="1" height="13" fill="#c0c0c0"/>
<rect x="845" y="550" width="1" height="13" fill="#c0c0c0"/>
<rect x="853" y="549" width="1" height="14" fill="#c0c0c0"/>
<rect x="861" y="550" width="1" height="13" fill="#c0c0c0"/>
<rect x="869" y="552" width="1" height="11" fill="#c0c0c0"/>
<rect x="877" y="553" width="1" height="10" fill="#c0c0c0"/>
<rect x="885" y="555" width="1" height="8" fill="#c0c0c0"/>
<rect x="893" y="557" width="1" height="6" fill="#c0c0c0"/>
<rect x="901" y="558" width="1" height="5" fill="#c0c0c0"/>
<rect x="909" y="559" width="1" height="4" fill="#c0c0c0"/>
<rect x="917" y="559" width="1" height="4" fill="#c0c0c0"/>
<rect x="925" y="559" width="1" height="4" fill="#c0c0c0"/>
<rect x="933" y="559" width="1" height="4" fill="#c0c0c0"/>
<rect x="941" y="559" width="1" height="4" fill="#c0c0c0"/>
<rect x="949" y="559" width="1" height="4" fill="#c0c0c0"/>
<rect x="957" y="563" width="1" height="2" fill="#c0c0c0"/>
<rect x="965" y="563" width="1" height="11" fill="#c0c0c0"/>
<rect x="973" y="563" width="1" height="17" fill="#c0c0c0"/>
<rect x="981" y="563" width="1" height="21" fill="#c0c0c0"/>
<rect x="989" y="563" width="1" height="23" fill="#c0c0c0"/>
<rect x="997" y="563" width="1" height="23" fill="#c0c0c0"/>
<rect x="1005" y="563" width="1" height="25" fill="#c0c0c0"/>
<rect x="1013" y="563" width="1" height="25" fill="#c0c0c0"/>
<rect x="1021" y="563" width="1" height="26" fill="#c0c0c0"/>
<rect x="1029" y="563" width="1" height="25" fill="#c0c0c0"/>
<rect x="1037" y="563" width="1" height="24" fill="#c0c0c0"/>
<rect x="1045" y="563" width="1" height="24" fill="#c0c0c0"/>
<rect x="1053" y="563" width="1" height="25" fill="#c0c0c0"/>
<rect x="1061" y="563" width="1" height="23" fill="#c0c0c0"/>
<rect x="1069" y="563" width="1" height="19" fill="#c0c0c0"/>
<rect x="1077" y="563" width="1" height="17" fill="#c0c0c0"/>
<rect x="1085" y="563" width="1" height="16" fill="#c0c0c0"/>
<rect x="1093" y="563" width="1" height="13" fill="#c0c0c0"/>
<rect x="1101" y="563" width="1" height="5" fill="#c0c0c0"/>
<rect x="1109" y="561" width="1" height="2" fill="#c0c0c0"/>
<rect x="1117" y="555" width="1" height="8" fill="#c0c0c0"/>
<rect x="1125" y="551" width="1" height="12" fill="#c0c0c0"/>
<rect x="1133" y="548" width="1" height="15" fill="#c0c0c0"/>
<rect x="1141" y="544" width="1" height="19" fill="#c0c0c0"/>
<rect x="1149" y="541" width="1" height="22" fill="#c0c0c0"/>
<rect x="1157" y="540" width="1" height="23" fill="#c0c0c0"/>
<rect x="1165" y="539" width="1" height="24" fill="#c0c0c0"/>
<rect x="1173" y="540" width="1" height="23" fill="#c0c0c0"/>
<rect x="1181" y="540" width="1" height="23" fill="#c0c0c0"/>
<rect x="1189" y="541" width="1" height="22" fill="#c0c0c0"/>
<rect x="1197" y="540" width="1" height="23" fill="#c0c0c0"/>
<rect x="1205" y="538" width="1" height="25" fill="#c0c0c0"/>
<rect x="1213" y="537" width="1" height="26" fill="#c0c0c0"/>
<rect x="1221" y="536" width="1" height="27" fill="#c0c0c0"/>
<rect x="1229" y="537" width="1" height="26" fill="#c0c0c0"/>
<rect x="1237" y="538" width="1" height="25" fill="#c0c0c0"/>
<rect x="1245" y="539" width="1" height="24" fill="#c0c0c0"/>
<rect x="1253" y="540" width="1" height="23" fill="#c0c0c0"/>
<rect x="1261" y="541" width="1" height="22" fill="#c0c0c0"/>
<rect x="1269" y="542" width="1" height="21" fill="#c0c0c0"/>
<rect x="1277" y="542" width="1" height="21" fill="#c0c0c0"/>
<rect x="1285" y="543" width="1" height="20" fill="#c0c0c0"/>
<rect x="1293" y="544" width="1" height="19" fill="#c0c0c0"/>
<rect x="1301" y="545" width="1" height="18" fill="#c0c0c0"/>
<rect x="1309" y="544" width="1" height="19" fill="#c0c0c0"/>
<rect x="1317" y="545" width="1" height="18" fill="#c0c0c0"/>
<polyline points="5,569.6 22,561 36,553 52,547 70,542 96,538.4 116,537.6 140,539 160,541.6 180,545 200,547.6 220,549.6 240,551.6 260,553.6 280,554.4 300,555 320,556.4 340,557.6 354,558.4 372,559.6 390,559 408,558.4 416,557 430,555.6 446,554.4 460,555.6 480,556.4 500,555.6 520,554.4 532,553.6 550,554.4 560,555 570,559 580,562.4 592,567.6 604,573 614,576.6 626,579 636,579.6 648,578 660,575.6 672,570 683,564.4 692,559.6 702,555 712,551 720,548 730,544.4 740,543.2 770,543.2 784,545.6 800,547.2 812,548.4 824,549.2 870,549.2 890,550.4 906,553 930,555.6 950,557 966,560.4 980,566 996,572 1010,577.6 1021,582.4 1028,585 1044,587.2 1068,587.2 1080,586 1096,584 1108,579 1120,573.6 1132,567 1144,560 1156,553.6 1170,547 1180,543.6 1196,541.2 1212,539.2 1230,538 1244,537.4 1262,537.4 1268,538.4 1286,539.2 1292,540.8 1312,541.4 1317,542.4" fill="none" stroke="#ff0000" stroke-width="1" stroke-dasharray="3 3"/>
</g>
<text x="9.5" y="547" textLength="169.5" lengthAdjust="spacing">MACD(12,26,9) 0.3457 0.3779</text>
<g shape-rendering="crispEdges"><rect x="1669" y="533" width="1" height="1"/><rect x="1669" y="562" width="2" height="1"/><rect x="1669" y="591" width="1" height="1"/><rect x="1669" y="596" width="1" height="1"/><rect x="1669" y="721" width="1" height="1"/></g>
<text x="1672.7" y="544.6" textLength="38" lengthAdjust="spacing">0.5586</text>
<text x="1672.7" y="566.7" textLength="23.2" lengthAdjust="spacing">0.00</text>
<text x="1672.7" y="588.7" textLength="41.5" lengthAdjust="spacing">-0.5677</text>
<g clip-path="url(#cr)" shape-rendering="crispEdges">
<path d="M5 633.5H1668M5 684.5H1668" stroke="#c0c0c0" stroke-width="1" stroke-dasharray="3 3" fill="none"/>
<polyline points="5,646.4 13,636.4 21,635 29,645.4 37,645.4 45,645.4 53,645.4 61,641 69,636.4 77,638 85,641 93,646.4 101,645.4 109,642.4 117,644 125,656 133,659.4 141,660.6 149,651.6 157,648 165,644.4 173,648 181,650.4 189,650.4 197,658.4 205,664.4 213,663 221,644.4 229,646 237,651 245,658.4 253,658.4 261,662.4 269,651.6 277,656 285,660.4 293,657 301,653.6 309,653.4 317,651.4 325,659.4 333,661.4 341,661.4 349,664.4 357,667.4 365,651.4 373,650.4 381,647.4 389,647 397,645.4 405,642.4 413,646 421,663 429,659.4 437,658.4 445,659.6 453,666.4 461,656 469,646.4 477,646.4 485,647.4 493,647.4 501,644.4 509,652 517,658 525,663 533,663 541,664.4 549,667.6 557,672 565,683 573,688.4 581,687.4 589,687.4 597,688.4 605,679 613,658 621,650.4 629,653.4 637,654.4 645,654.4 653,653.4 661,638.4 669,633.4 677,638.4 685,641.4 693,639.4 701,639.4 709,649.4 717,647.4 725,649.4 733,647.4 741,650.4 749,648.4 757,656.4 765,653 773,649.4 781,651.4 789,651.4 797,652.4 805,649.4 813,648.4 821,642.4 829,647.4 837,647.4 845,646 853,640.4 861,657.4 869,655.4 877,658.4 885,659.4 893,663.4 901,657.4 909,661.4 917,651.4 925,656.4 933,657.4 941,655.4 949,656.4 957,686.4 965,691.4 973,683.4 981,678.4 989,679.4 997,669.4 1005,676.4 1013,674.4 1021,674.4 1029,672.4 1037,670.4 1045,674.4 1053,676.4 1061,667 1069,663 1077,661.4 1085,665.4 1093,652 1101,638.4 1109,637.4 1117,639 1125,643 1133,641.4 1141,638.4 1149,636 1157,644.4 1165,646.4 1173,648.4 1181,647.4 1189,651.4 1197,642 1205,638.4 1213,640 1221,642 1229,644.4 1237,644.4 1245,653.4 1253,647.4 1261,645.4 1269,648.4 1277,647.4 1285,647.4 1293,652.4 1301,643.4 1309,643.4 1317,647.4" fill="none" stroke="#1e90ff" stroke-width="1"/>
</g>
<text x="8.7" y="610" textLength="91.6" lengthAdjust="spacing">RSI(14) 58.6431</text>
<text x="1672.7" y="607.8" textLength="19.2" lengthAdjust="spacing">100</text>
<text x="1670.5" y="637.8" textLength="14" lengthAdjust="spacing">70</text>
<text x="1670.5" y="688.8" textLength="14" lengthAdjust="spacing">30</text>
<text x="1672.7" y="718.8">0</text>
<g shape-rendering="crispEdges">
<rect x="5" y="723" width="1" height="3"/>
<rect x="101" y="723" width="1" height="3"/>
<rect x="197" y="723" width="1" height="3"/>
<rect x="293" y="723" width="1" height="3"/>
<rect x="389" y="723" width="1" height="3"/>
<rect x="485" y="723" width="1" height="3"/>
<rect x="581" y="723" width="1" height="3"/>
<rect x="677" y="723" width="1" height="3"/>
<rect x="773" y="723" width="1" height="3"/>
<rect x="869" y="723" width="1" height="3"/>
<rect x="965" y="723" width="1" height="3"/>
<rect x="1061" y="723" width="1" height="3"/>
<rect x="1157" y="723" width="1" height="3"/>
<rect x="1253" y="723" width="1" height="3"/>
</g>
<text x="3.6" y="737.7" letter-spacing="0.39">4 Nov 2019</text>
<text x="99.6" y="737.7" letter-spacing="0.39">6 Nov 04:00</text>
<text x="195.6" y="737.7" letter-spacing="0.39">8 Nov 04:00</text>
<text x="291.6" y="737.7" letter-spacing="0.39">12 Nov 00:00</text>
<text x="387.6" y="737.7" letter-spacing="0.39">14 Nov 00:00</text>
<text x="483.6" y="737.7" letter-spacing="0.39">17 Nov 23:00</text>
<text x="579.6" y="737.7" letter-spacing="0.39">19 Nov 20:00</text>
<text x="675.6" y="737.7" letter-spacing="0.39">21 Nov 20:00</text>
<text x="771.6" y="737.7" letter-spacing="0.39">25 Nov 16:00</text>
<text x="867.6" y="737.7" letter-spacing="0.39">27 Nov 16:00</text>
<text x="963.6" y="737.7" letter-spacing="0.39">29 Nov 16:00</text>
<text x="1059.6" y="737.7" letter-spacing="0.39">3 Dec 16:00</text>
<text x="1155.6" y="737.7" letter-spacing="0.39">5 Dec 16:00</text>
<text x="1251.6" y="737.7" letter-spacing="0.39">9 Dec 12:00</text>
<g shape-rendering="crispEdges"><rect x="0" y="746" width="1719" height="1" fill="#e3e3e3"/><rect x="0" y="748" width="8" height="1" fill="#606060"/><rect x="7" y="748" width="1" height="3" fill="#606060"/><rect x="0" y="749" width="7" height="2" fill="#f0f0f0"/><rect x="106" y="748" width="1613" height="1" fill="#202020"/><rect x="106" y="748" width="1" height="3" fill="#202020"/><rect x="107" y="750" width="1612" height="1" fill="#f0f0f0"/></g>
</svg>
<div id="trade">
<div class="btn" style="left:0;letter-spacing:-0.9px;padding-right:2px">SELL</div>
<div class="btn" style="left:215px">BUY</div>
<div class="price" style="left:0;width:141px"><span class="sm" style="left:38.3px;top:24.6px">59</span><span class="big" style="left:60.5px;top:2.7px">06</span><span class="sm sup" style="left:109px;top:6.5px">0</span></div>
<div class="price" style="left:143px;width:140px"><span class="sm" style="left:37.5px;top:24.6px">59</span><span class="big" style="left:60.7px;top:2.7px">12</span><span class="sm sup" style="left:109.3px;top:6.5px">0</span></div>
<div style="left:4px;top:26px;width:60px;height:1px;background:#9c9cff"></div>
<div style="left:219px;top:26px;width:60px;height:1px;background:#9c9cff"></div>
<div id="vol"><div class="spin" style="left:0"></div><div class="spin" style="left:118px"></div>
<div style="left:83.2px;top:3.5px;font-size:15.6px;line-height:17px;white-space:nowrap">1.00</div>
<svg style="position:absolute;left:0;top:0" width="143" height="25"><path d="M7.6 10.4H15.2L11.4 14.4Z" fill="#5a6cc4"/><path d="M125.8 13.2H133.5L129.65 9.2Z" fill="#5a6cc4"/></svg>
</div>
</div>
</body></html>
